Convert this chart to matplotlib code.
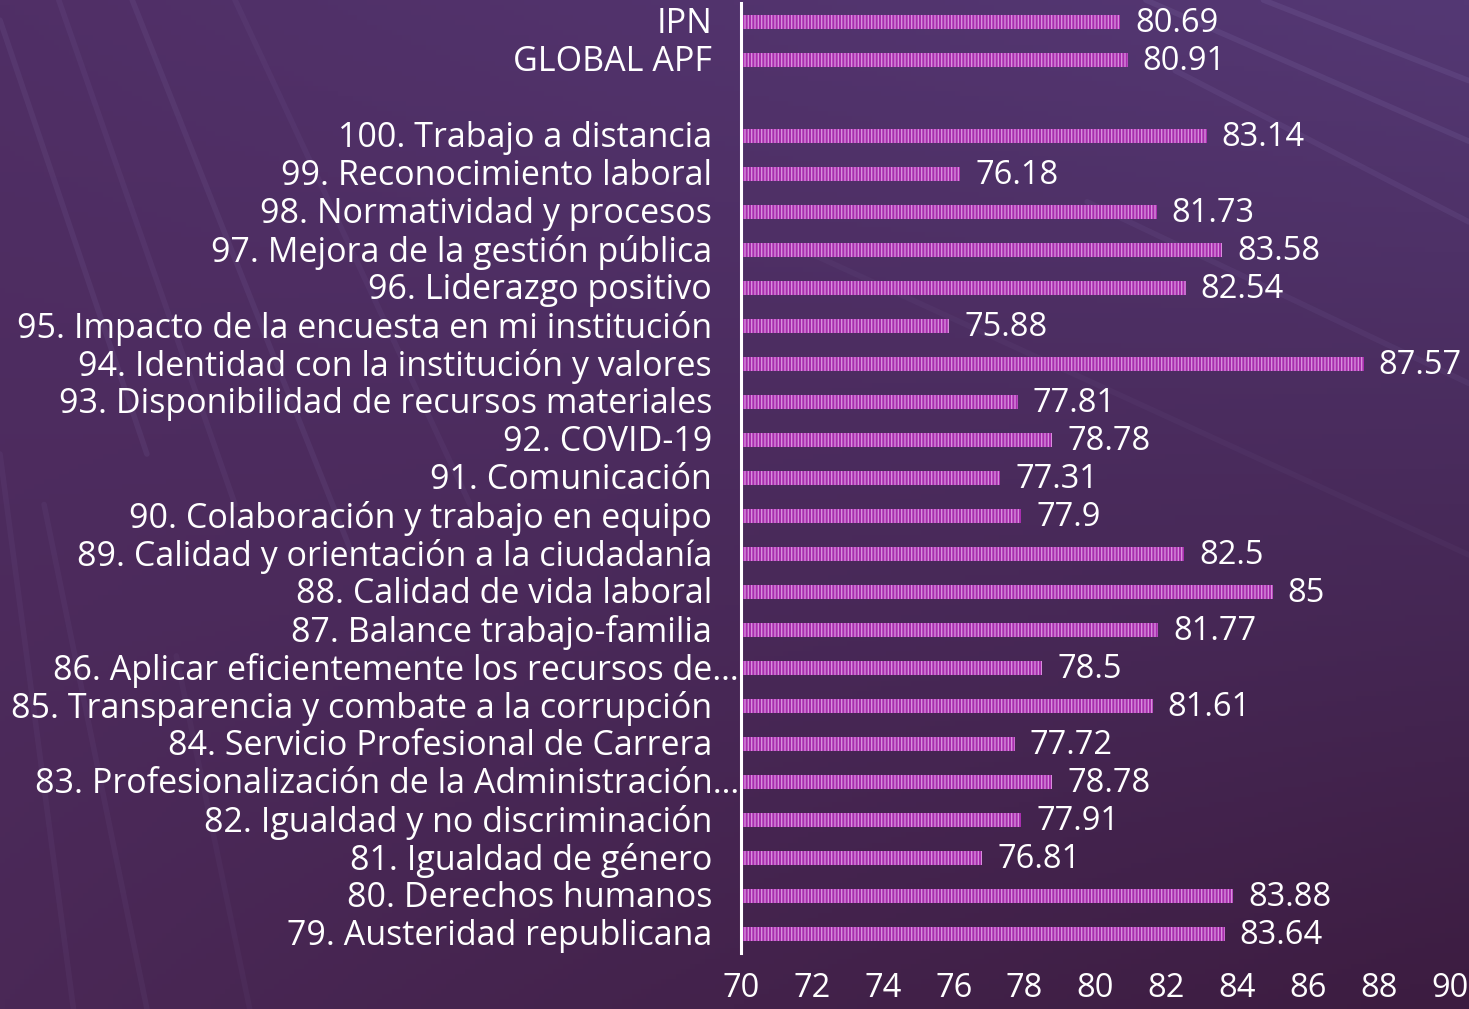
import numpy as np
import matplotlib
matplotlib.use("Agg")
import matplotlib.pyplot as plt
import matplotlib.transforms as mtransforms

categories = [
    "IPN",
    "GLOBAL APF",
    "",
    "100. Trabajo a distancia",
    "99. Reconocimiento laboral",
    "98. Normatividad y procesos",
    "97. Mejora de la gestión pública",
    "96. Liderazgo positivo",
    "95. Impacto de la encuesta en mi institución",
    "94. Identidad con la institución y valores",
    "93. Disponibilidad de recursos materiales",
    "92. COVID-19",
    "91. Comunicación",
    "90. Colaboración y trabajo en equipo",
    "89. Calidad y orientación a la ciudadanía",
    "88. Calidad de vida laboral",
    "87. Balance trabajo-familia",
    "86. Aplicar eficientemente los recursos de…",
    "85. Transparencia y combate a la corrupción",
    "84. Servicio Profesional de Carrera",
    "83. Profesionalización de la Administración…",
    "82. Igualdad y no discriminación",
    "81. Igualdad de género",
    "80. Derechos humanos",
    "79. Austeridad republicana",
]
values = [80.69, 80.91, None, 83.14, 76.18, 81.73, 83.58, 82.54, 75.88, 87.57,
          77.81, 78.78, 77.31, 77.9, 82.5, 85, 81.77, 78.5, 81.61, 77.72,
          78.78, 77.91, 76.81, 83.88, 83.64]
x_ticks = [70, 72, 74, 76, 78, 80, 82, 84, 86, 88, 90]

W, H = 1469, 1009
fig = plt.figure(figsize=(W / 100, H / 100), dpi=100)

# background gradient
bg = fig.add_axes([0, 0, 1, 1], zorder=-10)
bg.set_axis_off()
yy, xx = np.mgrid[0:1:200j, 0:1:300j]
c_tl = np.array([0x50, 0x2f, 0x66]) / 255
c_tr = np.array([0x54, 0x38, 0x74]) / 255
c_bl = np.array([0x4a, 0x28, 0x56]) / 255
c_br = np.array([0x3c, 0x1c, 0x40]) / 255
img = (c_tl[None, None] * ((1 - xx) * (1 - yy))[..., None]
       + c_tr[None, None] * (xx * (1 - yy))[..., None]
       + c_bl[None, None] * ((1 - xx) * yy)[..., None]
       + c_br[None, None] * (xx * yy)[..., None])
bg.imshow(img, extent=[0, 1, 0, 1], aspect="auto", origin="upper")
# decorative light streaks
streaks = [
    ((0.0, 0.98), (0.10, 0.55), 0.07), ((0.04, 1.0), (0.16, 0.5), 0.06),
    ((0.09, 1.0), (0.24, 0.45), 0.07), ((0.16, 1.0), (0.32, 0.5), 0.05),
    ((0.0, 0.55), (0.05, 0.0), 0.05), ((0.03, 0.5), (0.10, 0.0), 0.05),
    ((0.12, 0.35), (0.17, 0.0), 0.04),
    ((0.78, 1.0), (1.0, 0.86), 0.09), ((0.86, 1.0), (1.0, 0.92), 0.09),
    ((0.80, 0.93), (1.0, 0.78), 0.08), ((0.74, 0.80), (1.0, 0.62), 0.06),
    ((0.55, 0.75), (1.0, 0.45), 0.04),
]
for (x0, y0), (x1, y1), a in streaks:
    bg.plot([x0, x1], [y0, y1], color="#b8b0f0", alpha=a, lw=4,
            transform=bg.transAxes, solid_capstyle="round")
bg.set_xlim(0, 1)
bg.set_ylim(0, 1)

left = 741 / W
right = 1450 / W
bottom = 1 - 953 / H
top = 1 - 3 / H
ax = fig.add_axes([left, bottom, right - left, top - bottom])
ax.patch.set_alpha(0)

plt.rcParams["hatch.linewidth"] = 0.95
font = "Open Sans"
fs = 24.5
fs_val = 23.5

y = np.arange(len(categories))
for yi, v in zip(y, values):
    if v is None:
        continue
    ax.barh(yi, v - 70, left=70, height=0.36, color="#a82eae",
            edgecolor="#d890dc", linewidth=0, hatch="|||||")
    ax.annotate(f"{v:g}", (v, yi), xytext=(15, -2), textcoords="offset pixels",
                ha="left", va="center", color="white", fontsize=fs_val,
                family=font)

# category labels
tr = mtransforms.blended_transform_factory(ax.transAxes, ax.transData)
for yi, c in zip(y, categories):
    if not c:
        continue
    off = -29 if not c.endswith("…") else -2
    ax.annotate(c, (0, yi), xycoords=tr, xytext=(off, -2),
                textcoords="offset pixels", ha="right", va="center",
                color="white", fontsize=fs, family=font, annotation_clip=False)

ax.set_xlim(70, 90)
ax.set_ylim(len(categories) - 0.5, -0.5)
ax.set_xticks(x_ticks)
ax.set_xticklabels([str(t) for t in x_ticks], color="white", fontsize=fs_val,
                   family=font)
ax.tick_params(axis="x", length=0, pad=14)
ax.set_yticks([])
for s in ["top", "right", "bottom"]:
    ax.spines[s].set_visible(False)
ax.spines["left"].set_color("white")
ax.spines["left"].set_linewidth(2.2)

fig.savefig("out.png", dpi=100)
